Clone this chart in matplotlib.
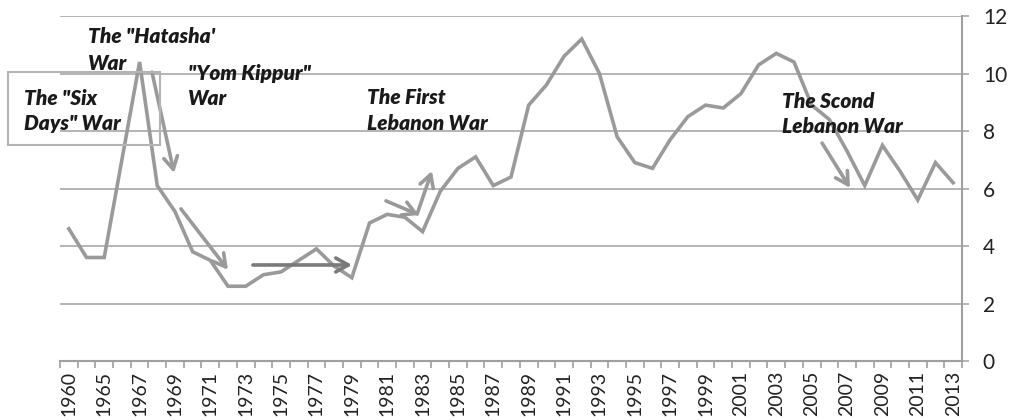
import matplotlib
matplotlib.use("Agg")
import matplotlib.pyplot as plt
from matplotlib.patches import Rectangle

plt.rcParams['font.family'] = ['Lato', 'DejaVu Sans']

# ---- data ----
years = ['1960', '1964', '1965', '1966', '1967', '1968', '1969', '1970', '1971', '1972',
         '1973', '1974', '1975', '1976', '1977', '1978', '1979', '1980', '1981', '1982',
         '1983', '1984', '1985', '1986', '1987', '1988', '1989', '1990', '1991', '1992',
         '1993', '1994', '1995', '1996', '1997', '1998', '1999', '2000', '2001', '2002',
         '2003', '2004', '2005', '2006', '2007', '2008', '2009', '2010', '2011', '2012',
         '2013']
values = [4.6, 3.6, 3.6, 7.0, 10.4, 6.1, 5.2, 3.8, 3.5, 2.6,
          2.6, 3.0, 3.1, 3.5, 3.9, 3.3, 2.9, 4.8, 5.1, 5.0,
          4.5, 5.9, 6.7, 7.1, 6.1, 6.4, 8.9, 9.6, 10.6, 11.2,
          10.0, 7.8, 6.9, 6.7, 7.7, 8.5, 8.9, 8.8, 9.3, 10.3,
          10.7, 10.4, 8.9, 8.4, 7.3, 6.1, 7.5, 6.6, 5.6, 6.9,
          6.2]
y_ticks = [0, 2, 4, 6, 8, 10, 12]

# annotation arrows: (start category pos, start value, end category pos, end value)
arrows_light = [
    (4.70, 10.05, 5.95, 6.54),    # Hatasha
    (6.34, 5.29, 9.00, 3.17),     # Yom Kippur
    (17.93, 5.57, 19.80, 5.08),   # First Lebanon (1)
    (19.69, 5.11, 20.53, 6.61),   # First Lebanon (2)
    (42.59, 7.58, 44.17, 6.02),   # Second Lebanon
]
arrows_dark = [
    (10.41, 3.34, 16.01, 3.34),
]

W, H = 1012, 420
fig = plt.figure(figsize=(W / 100, H / 100), dpi=100)
ax = fig.add_axes([60 / W, (H - 361) / H, 902 / W, 345 / H])

line_col = '#9a9a9a'
grid_col = '#a8a8a8'

x = list(range(len(years)))
ax.plot(x, values, color=line_col, lw=2.6, solid_joinstyle='miter', zorder=3)

ax.set_xlim(-0.5, len(years) - 0.5)
ax.set_ylim(0, 12)

# gridlines
ax.set_yticks(y_ticks)
ax.yaxis.grid(True, color=grid_col, lw=1.2)
ax.set_axisbelow(True)

# y axis on right
ax.yaxis.tick_right()
ax.tick_params(axis='y', direction='out', length=5, color=grid_col, width=1.2,
               pad=10, labelsize=15, labelcolor='#222222')
for s in ['top', 'left']:
    ax.spines[s].set_visible(False)
ax.spines['right'].set_color('#a0a0a0')
ax.spines['right'].set_linewidth(1.5)
ax.spines['bottom'].set_color('#a0a0a0')
ax.spines['bottom'].set_linewidth(1.5)

# x ticks: labels at every other category centre, tick marks at boundaries
ax.set_xticks(x[::2])
ax.set_xticklabels(years[::2], rotation=90, fontsize=14, color='#222222')
ax.tick_params(axis='x', which='major', length=0, pad=7)
ax.set_xticks([i - 0.5 for i in range(len(years) + 1)], minor=True)
ax.tick_params(axis='x', which='minor', direction='out', length=5, color='#a0a0a0', width=1.2)

for x0, y0, x1, y1 in arrows_light:
    ax.annotate('', xy=(x1, y1), xytext=(x0, y0),
                arrowprops=dict(arrowstyle='->, head_length=0.9, head_width=0.5',
                                color=line_col, lw=2.6, mutation_scale=10,
                                shrinkA=0, shrinkB=0), zorder=4)
for x0, y0, x1, y1 in arrows_dark:
    ax.annotate('', xy=(x1, y1), xytext=(x0, y0),
                arrowprops=dict(arrowstyle='->, head_length=0.9, head_width=0.5',
                                color='#7a7a7a', lw=2.6, mutation_scale=10,
                                shrinkA=0, shrinkB=0), zorder=4)

def ftxt(px, py, s):
    fig.text(px / W, 1 - py / H, s, fontsize=15, fontweight='heavy', fontstyle='italic',
             color='#1a1a1a', va='baseline', ha='left')

ftxt(88, 43, 'The "Hatasha\'')
ftxt(88, 70, 'War')
ftxt(24, 105, 'The "Six')
ftxt(24, 130, 'Days" War')
ftxt(188, 80, '"Yom Kippur"')
ftxt(188, 105, 'War')
ftxt(367, 104, 'The First')
ftxt(367, 130, 'Lebanon War')
ftxt(782, 108, 'The Scond')
ftxt(782, 133, 'Lebanon War')

fig.add_artist(Rectangle((8 / W, 1 - 145 / H), 152 / W, 73 / H, transform=fig.transFigure,
                         fill=False, edgecolor='#b4b4b4', lw=1.5))

fig.savefig('out.png', dpi=100)
